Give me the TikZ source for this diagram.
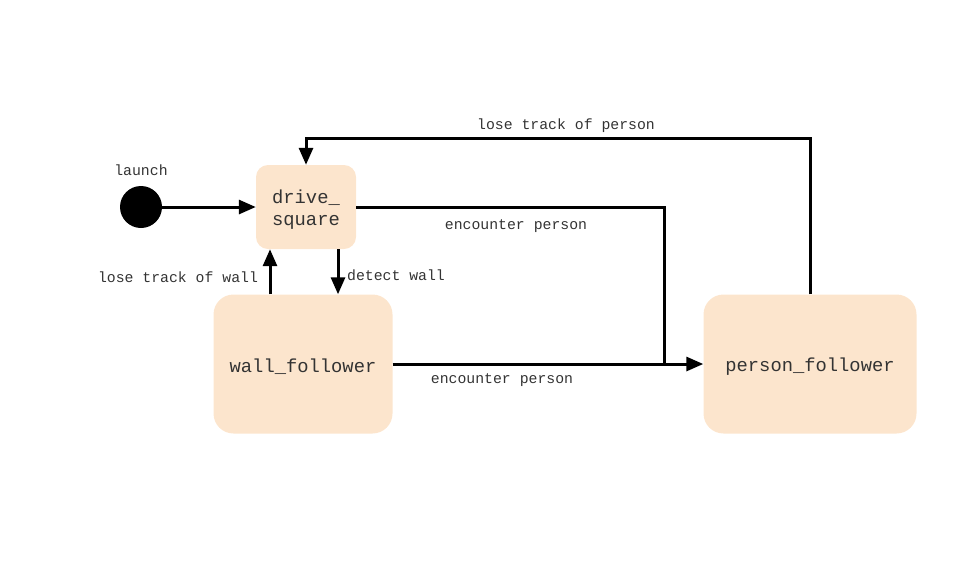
\documentclass[tikz,border=0pt]{standalone}
\usepackage{fontspec}
\setmonofont{Liberation Mono}
\usetikzlibrary{arrows.meta,positioning,shapes}
\definecolor{peach}{HTML}{FCE5CD}
\newcommand{\lowtext}[1]{\raisebox{-3pt}[\height][\depth]{#1}}
\tikzstyle{state} = [rectangle, fill=peach, text centered, text=black!80, font=\ttfamily\fontsize{18.8}{22}\selectfont, rounded corners=20pt]
\tikzstyle{smallstate} = [state, minimum width=100pt, minimum height=84pt, rounded corners=12pt]
\tikzstyle{startdot} = [circle, fill=black, minimum size=42pt, inner sep=0pt]
\tikzstyle{lbl} = [font=\ttfamily\fontsize{14.8}{17}\selectfont, text=black!80, inner sep=0pt]
\tikzstyle{arr} = [-{Triangle[length=17pt,width=14pt]}, line width=3pt]

\begin{document}
\begin{tikzpicture}[x=1pt, y=-1pt]
	\useasboundingbox (0,0) rectangle (960,576);
	\node[startdot] (start) at (141,207) {};
	\node[smallstate] (drive) at (306,207) {\lowtext{\begin{tabular}{@{}c@{}}drive\_\\square\end{tabular}}};
	\node[state, minimum width=179pt, minimum height=139pt] (wall) at (303,364) {\lowtext{wall\_follower}};
	\node[state, minimum width=213pt, minimum height=139pt] (person) at (810,364) {\lowtext{person\_follower}};
	\coordinate (ptop) at (0,138);
	\coordinate (join) at (664,364);

	%labels
	\node[lbl] (launchlbl) at (141,170) {launch};
	\node[lbl] (losepersonlbl) at (566,126) {lose track of person};
	\node[lbl] (encdrivelbl) at (516,226) {encounter person};
	\node[lbl] (encwalllbl) at (502,380) {encounter person};
	\node[lbl] (losewalllbl) at (178,277) {lose track of wall};
	\node[lbl] (detectlbl) at (396,275) {detect wall};

	%arrow
	\draw [arr] (start) -- (drive);
	\draw [arr] (person.north) -- (person.north |- ptop) -| (drive.north);
	\draw [line width=3pt] (drive.east) -| (join);
	\draw [arr] (wall.east) -- (person.west);
	\draw [arr] ([xshift=-33pt]wall.north) -- ([xshift=-36pt]drive.south);
	\draw [arr] ([xshift=32pt]drive.south) -- ([xshift=35pt]wall.north);
\end{tikzpicture}
\end{document}
